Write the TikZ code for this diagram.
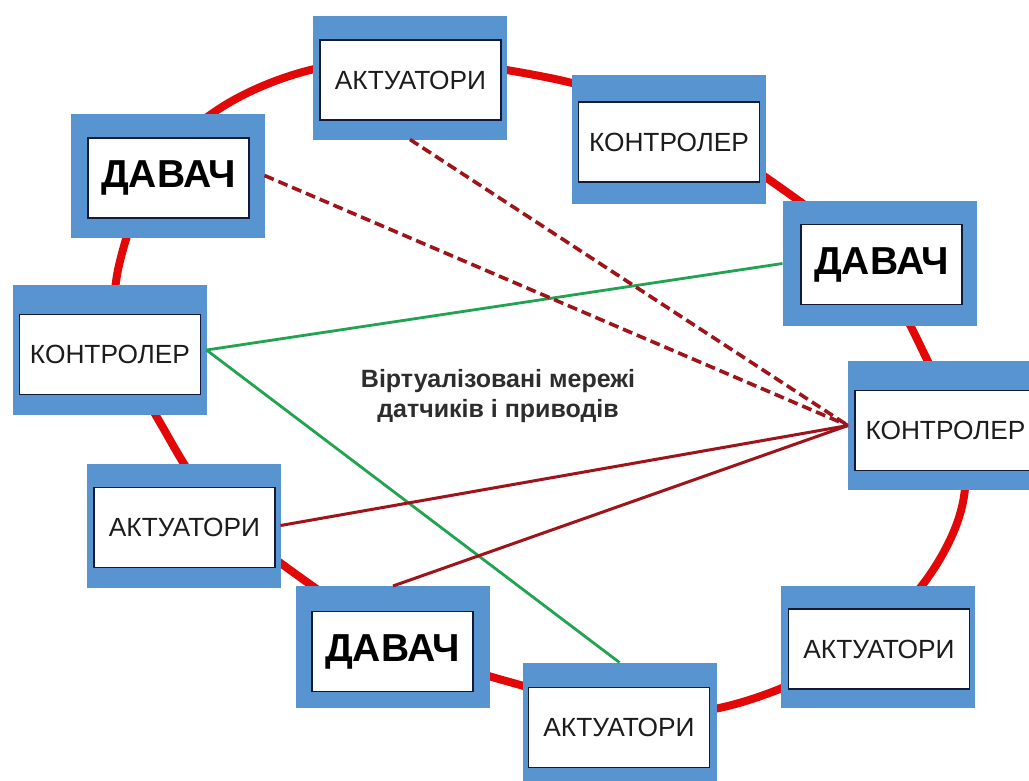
\documentclass[tikz,border=0pt]{standalone}
\usepackage{fontspec}
\setmainfont{Liberation Sans}
\definecolor{boxblue}{RGB}{88,148,208}
\definecolor{ringred}{RGB}{226,8,8}
\definecolor{linkred}{RGB}{158,20,26}
\definecolor{linkgreen}{RGB}{34,163,82}
\definecolor{navy}{RGB}{18,26,58}
\definecolor{txt}{RGB}{28,28,28}
\definecolor{captxt}{RGB}{45,45,45}
\tikzset{
  outerbox/.style={rectangle, fill=boxblue, draw=none, inner sep=0pt, outer sep=0pt,
    minimum width=194pt, minimum height=124pt},
  innerbox/.style={rectangle, fill=white, draw=navy, line width=1.8pt, inner sep=0pt, outer sep=0pt,
    minimum width=181pt, minimum height=80pt, text=txt, font=\fontsize{26.3}{30}\selectfont},
  sensorbox/.style={innerbox, minimum width=161pt, font=\fontsize{39}{44}\selectfont\bfseries, text=black},
  ring/.style={draw=ringred, line width=8pt},
  greenlink/.style={draw=linkgreen, line width=2.8pt},
  redlink/.style={draw=linkred, line width=3pt},
  reddash/.style={draw=linkred, line width=3.6pt, dash pattern=on 10pt off 5pt},
  captext/.style={align=center, text=captxt, font=\fontsize{25}{30}\selectfont\bfseries}
}
\begin{document}
\begin{tikzpicture}[x=1pt,y=-1pt]
\useasboundingbox (0,0) rectangle (1029,780);
\clip (0,0) rectangle (1029,780);
\fill[white] (0,0) rectangle (1029,780);

% ring (drawn behind the boxes)
\draw[ring] plot[smooth cycle, tension=0.75] coordinates {
 (540,76) (781,188) (919,343) (950,540) (749,700)
 (506,681) (297,575) (170,440) (120,261) (258,88)};

% boxes (outer)
\node[outerbox] (a1) at (410,77.5) {};
\node[outerbox] (d1) at (167.5,175.5) {};
\node[outerbox, minimum height=130pt] (c1) at (109.5,350) {};
\node[outerbox, minimum height=129pt] (c2) at (669,139.5) {};
\node[outerbox, minimum height=125pt] (d2) at (879.5,263.5) {};
\node[outerbox, minimum height=129pt] (c3) at (945,425.5) {};
\node[outerbox] (a2) at (183.5,525.5) {};
\node[outerbox, minimum height=122pt] (d3) at (393,647) {};
\node[outerbox, minimum height=122pt] (a3) at (878,647) {};
\node[outerbox] (a4) at (619.5,724.5) {};

% inner labelled boxes
\node[innerbox] (a1t) at (410.5,80) {АКТУАТОРИ};
\node[sensorbox] (d1t) at (168.5,178) {ДАВАЧ};
\node[innerbox] (c1t) at (110,354.5) {КОНТРОЛЕР};
\node[innerbox] (c2t) at (669,142) {КОНТРОЛЕР};
\node[sensorbox] (d2t) at (881.5,264.5) {ДАВАЧ};
\node[innerbox] (c3t) at (945.5,430.5) {КОНТРОЛЕР};
\node[innerbox] (a2t) at (184.5,527.5) {АКТУАТОРИ};
\node[sensorbox] (d3t) at (392.5,651.5) {ДАВАЧ};
\node[innerbox] (a3t) at (879,649) {АКТУАТОРИ};
\node[innerbox] (a4t) at (619,727.5) {АКТУАТОРИ};

% links
\draw[greenlink] (c1.east) -- (d2.west);
\draw[greenlink] (c1.east) -- (a4.north);
\draw[reddash] (d1.east) -- (c3.west);
\draw[reddash] (a1.south) -- (c3.west);
\draw[redlink] (a2.east) -- (c3.west);
\draw[redlink] (d3.north) -- (c3.west);

% caption
\node[captext] (cap) at (498,396) {Віртуалізовані мережі\\датчиків і приводів};
\end{tikzpicture}
\end{document}
